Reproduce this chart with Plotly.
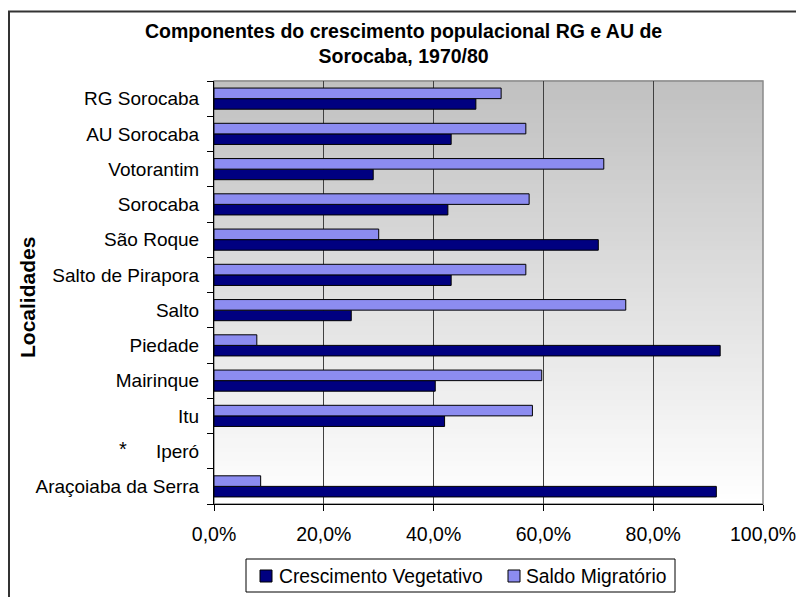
import plotly.graph_objects as go

# Localities, listed top to bottom as they appear on the chart
locations = [
    "RG Sorocaba", "AU Sorocaba", "Votorantim", "Sorocaba", "São Roque",
    "Salto de Pirapora", "Salto", "Piedade", "Mairinque", "Itu", "Iperó",
    "Araçoiaba da Serra",
]
# Share of population growth (%) by component, 1970/80
crescimento_vegetativo = [47.7, 43.2, 29.0, 42.6, 70.0, 43.2, 25.0, 92.2, 40.3, 42.0, None, 91.5]
saldo_migratorio = [52.3, 56.8, 71.0, 57.4, 30.0, 56.8, 75.0, 7.8, 59.7, 58.0, None, 8.5]
series_names = ["Crescimento Vegetativo", "Saldo Migratório"]

title_text = "Componentes do crescimento populacional RG e AU de<br>Sorocaba, 1970/80"
y_title = "Localidades"
x_ticks = [0, 20, 40, 60, 80, 100]
x_tick_labels = ["0,0%", "20,0%", "40,0%", "60,0%", "80,0%", "100,0%"]

FONT = "Liberation Sans, Arial, sans-serif"
COLORS = ["#000080", "#8c8cf0"]
W, H = 796, 597
L, R, T, B = 214, 33, 81, 93          # margins -> plot area 214..763 x 81..504
pw, ph = W - L - R, H - T - B


def px_x(x):
    return (x - L) / pw


def px_y(y):
    return (H - B - y) / ph


fig = go.Figure()
for name, vals, col in zip(series_names, [crescimento_vegetativo, saldo_migratorio], COLORS):
    fig.add_trace(go.Bar(
        name=name, y=locations, x=vals, orientation="h", showlegend=False,
        marker=dict(color=col, line=dict(color="#000000", width=1)),
    ))

shapes = []
# vertical grey-to-white gradient behind the plot area
n_bands = 90
for i in range(n_bands):
    t = (i + 0.5) / n_bands           # 0 at bottom, 1 at top
    g = int(round(255 - (255 - 192) * t))
    shapes.append(dict(
        type="rect", xref="paper", yref="paper", layer="below",
        x0=0, x1=1, y0=i / n_bands, y1=(i + 1) / n_bands + 0.002,
        line=dict(width=0), fillcolor=f"rgb({g},{g},{g})",
    ))
# plot-area frame (top and right edges grey)
shapes.append(dict(type="rect", xref="paper", yref="paper", layer="below",
                   x0=0, x1=1, y0=0, y1=1, line=dict(color="#8a8a8a", width=1.5)))
# outer chart frame
shapes.append(dict(type="rect", xref="paper", yref="paper", layer="above",
                   x0=px_x(9), x1=px_x(830), y0=px_y(640), y1=px_y(11.5),
                   line=dict(color="#333333", width=2)))

annotations = [
    dict(text=title_text, xref="paper", yref="paper", x=px_x(403), y=px_y(44),
         xanchor="center", yanchor="middle", showarrow=False,
         font=dict(family=FONT, size=19.5, color="#000000", weight="bold")),
    dict(text=y_title, xref="paper", yref="paper", x=px_x(27), y=px_y(297),
         xanchor="center", yanchor="middle", showarrow=False, textangle=-90,
         font=dict(family=FONT, size=21, color="#000000", weight="bold")),
    dict(text="*", xref="paper", yref="y", x=px_x(123), y="Iperó",
         xanchor="center", yanchor="middle", showarrow=False, yshift=2,
         font=dict(family=FONT, size=20, color="#000000")),
]

# boxed legend below the axis: frame, colour swatches and series names
shapes.append(dict(type="rect", xref="paper", yref="paper", layer="above",
                   x0=px_x(246), x1=px_x(675), y0=px_y(592), y1=px_y(559),
                   line=dict(color="#000000", width=1), fillcolor="#ffffff"))
for sw_x, text_x, name, col in zip([260, 508], [277, 524], series_names, COLORS):
    shapes.append(dict(type="rect", xref="paper", yref="paper", layer="above",
                       x0=px_x(sw_x), x1=px_x(sw_x + 12), y0=px_y(582), y1=px_y(570),
                       line=dict(color="#000000", width=1), fillcolor=col))
    annotations.append(dict(text=name, xref="paper", yref="paper",
                            x=px_x(text_x), y=px_y(576), xanchor="left", yanchor="middle",
                            showarrow=False,
                            font=dict(family=FONT, size=19.3, color="#000000")))

fig.update_layout(
    width=W, height=H,
    margin=dict(l=L, r=R, t=T, b=B, pad=0, autoexpand=False),
    paper_bgcolor="#ffffff", plot_bgcolor="#ffffff",
    font=dict(family=FONT, size=19, color="#000000"),
    barmode="group", bargap=0.4, bargroupgap=0,
    showlegend=False,
    shapes=shapes,
    annotations=annotations,
)
fig.update_xaxes(
    range=[0, 100], tickvals=x_ticks, ticktext=x_tick_labels, automargin=False,
    showgrid=True, gridcolor="#404040", gridwidth=1, zeroline=False,
    showline=True, linecolor="#000000", linewidth=1,
    ticks="outside", ticklen=6, tickcolor="#000000", ticklabelstandoff=7,
    ticklabeloverflow="allow",
    tickfont=dict(family=FONT, size=19.5), fixedrange=True,
)
fig.update_yaxes(
    type="category", categoryorder="array", categoryarray=locations[::-1],
    automargin=False, showgrid=False, zeroline=False,
    showline=True, linecolor="#000000", linewidth=1,
    ticks="outside", ticklen=6, tickcolor="#000000", tickson="boundaries",
    ticklabelstandoff=10, ticklabeloverflow="allow",
    tickfont=dict(family=FONT, size=19), fixedrange=True,
)

fig.write_html("out.html")
